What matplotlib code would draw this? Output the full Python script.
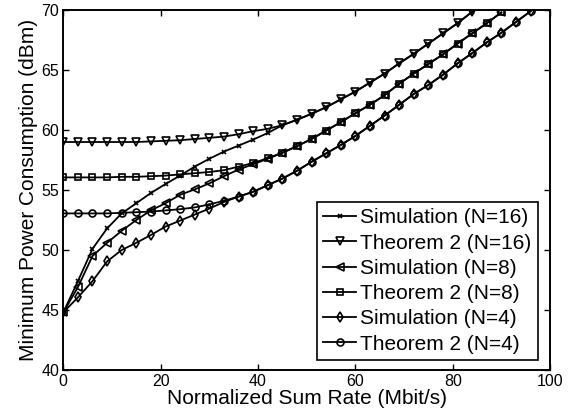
import numpy as np
import matplotlib
matplotlib.use("Agg")
import matplotlib.pyplot as plt

plt.rcParams['font.family'] = ['Liberation Sans', 'DejaVu Sans']

# rate axis, one point every 3 Mbit/s
rate_16 = np.arange(0, 85, 3)
rate_8 = np.arange(0, 91, 3)
rate_4 = np.arange(0, 97, 3)

sim_16 = [44.8, 47.4, 50.1, 51.8, 53.05, 53.9, 54.75, 55.5, 56.2, 56.95, 57.6, 58.2, 58.7, 59.2, 59.75,
          60.4, 60.85, 61.35, 61.9, 62.55, 63.2, 63.95, 64.7, 65.55, 66.35, 67.2, 68.05, 68.9, 69.85]
thm_16 = [59.0, 59.0, 59.0, 59.0, 59.0, 59.0, 59.05, 59.1, 59.15, 59.25, 59.35, 59.45, 59.65, 59.9, 60.1,
          60.4, 60.85, 61.35, 61.9, 62.55, 63.2, 63.95, 64.7, 65.55, 66.35, 67.2, 68.05, 68.9, 69.85]

sim_8 = [44.8, 46.9, 49.5, 50.6, 51.6, 52.5, 53.3, 53.9, 54.6, 55.05, 55.55, 56.15, 56.7, 57.15, 57.6,
         58.1, 58.65, 59.25, 59.95, 60.65, 61.4, 62.1, 62.9, 63.85, 64.7, 65.5, 66.3, 67.2, 68.05, 68.9, 69.8]
thm_8 = [56.05, 56.05, 56.05, 56.05, 56.1, 56.1, 56.15, 56.2, 56.3, 56.4, 56.5, 56.65, 56.95, 57.25, 57.65,
         58.1, 58.65, 59.25, 59.95, 60.65, 61.4, 62.1, 62.9, 63.85, 64.7, 65.5, 66.3, 67.2, 68.05, 68.9, 69.8]

sim_4 = [44.8, 46.05, 47.4, 49.05, 50.0, 50.6, 51.25, 51.95, 52.45, 52.95, 53.45, 54.0, 54.45, 54.85, 55.4,
         55.95, 56.6, 57.35, 58.05, 58.75, 59.5, 60.35, 61.2, 62.1, 63.0, 63.75, 64.6, 65.55, 66.4, 67.3,
         68.1, 69.0, 69.9]
thm_4 = [53.05, 53.05, 53.05, 53.05, 53.1, 53.15, 53.2, 53.3, 53.4, 53.55, 53.8, 54.1, 54.45, 54.85, 55.4,
         55.95, 56.6, 57.35, 58.05, 58.75, 59.5, 60.35, 61.2, 62.1, 63.0, 63.75, 64.6, 65.55, 66.4, 67.3,
         68.1, 69.0, 69.9]

fig = plt.figure(figsize=(5.79, 4.17), dpi=100)
ax = fig.add_axes([0.1093, 0.1127, 0.8407, 0.8633])

kw = dict(color="black", lw=1.3, markerfacecolor="none", markeredgecolor="black", markeredgewidth=1.2)
ax.plot(rate_16, sim_16, marker="x", markersize=3.5, label="Simulation (N=16)", **kw)
ax.plot(rate_16, thm_16, marker="v", markersize=5.5, label="Theorem 2 (N=16)", **kw)
ax.plot(rate_8, sim_8, marker="<", markersize=5.5, label="Simulation (N=8)", **kw)
ax.plot(rate_8, thm_8, marker="s", markersize=4.5, label="Theorem 2 (N=8)", **kw)
ax.plot(rate_4, sim_4, marker="d", markersize=5, label="Simulation (N=4)", **kw)
ax.plot(rate_4, thm_4, marker="o", markersize=5, label="Theorem 2 (N=4)", **kw)

ax.set_xlim(0, 100)
ax.set_ylim(40, 70)
ax.set_xticks([0, 20, 40, 60, 80, 100])
ax.set_yticks([40, 45, 50, 55, 60, 65, 70])
ax.tick_params(direction="in", top=True, right=True, length=4, width=1.0, labelsize=11.5, pad=3)
for s in ax.spines.values():
    s.set_linewidth(1.4)

ax.set_xlabel("Normalized Sum Rate (Mbit/s)", fontsize=15, labelpad=0)
ax.set_ylabel("Minimum Power Consumption (dBm)", fontsize=15, labelpad=2)

leg = ax.legend(loc="lower right", bbox_to_anchor=(0.975, 0.028), borderaxespad=0,
                fontsize=15, handlelength=1.6, handletextpad=0.2, labelspacing=0.3,
                borderpad=0.3, fancybox=False, framealpha=1)
leg.get_frame().set_edgecolor("black")
leg.get_frame().set_linewidth(1.2)

fig.savefig("out.png", dpi=100)
